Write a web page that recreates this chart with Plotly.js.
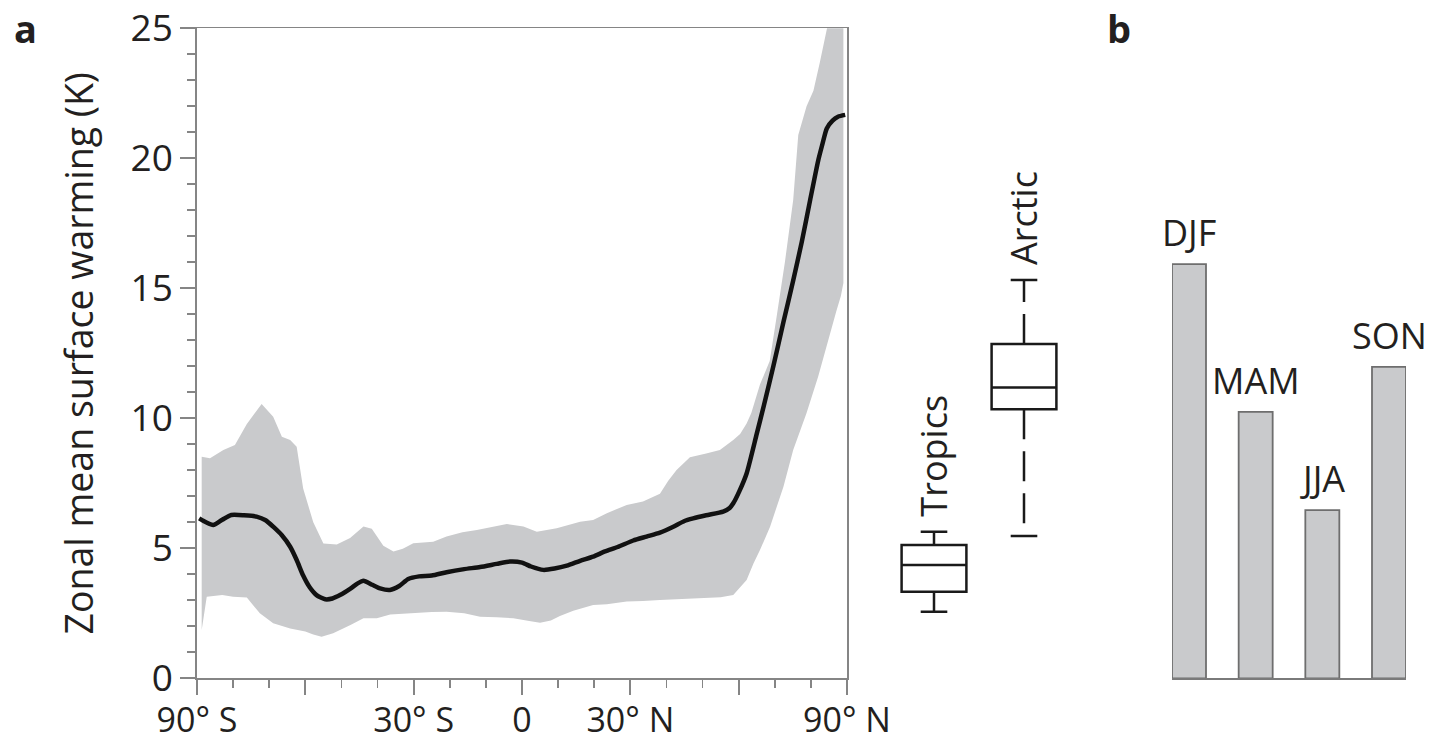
<!DOCTYPE html>
<html><head><meta charset="utf-8">
<script src="https://cdn.plot.ly/plotly-3.0.1.min.js"></script>
<style>html,body{margin:0;padding:0;background:#fff}#chart{width:1431px;height:741px}</style>
</head><body><div id="chart"></div>
<script>
// ---- Panel a: zonal mean warming (multi-model mean) ----
const lineLat = [-89.4,-87.5,-85.5,-83,-80.5,-77,-73.5,-71,-68.9,-66.5,-64.2,-62.4,-60.6,-58.8,-56.9,-54.5,-52.5,-50.4,-47.5,-45.5,-43.9,-41.5,-39.3,-36.6,-34,-31.5,-28.5,-25,-20.9,-16,-11.6,-7,-3.3,0,2.5,5.9,9,12.4,16.1,19.7,23,26.5,30.8,34.5,38.2,41.9,45,47.4,51,55.7,57.5,58.5,60.2,62.2,65,67,69.6,72.4,75.1,77.5,79.8,82,83.2,84.4,86,87.5,89.5];
const lineWarming = [6.15,6.0,5.9,6.1,6.28,6.27,6.22,6.08,5.83,5.5,5.06,4.55,3.95,3.5,3.2,3.04,3.07,3.2,3.45,3.65,3.75,3.6,3.46,3.4,3.55,3.82,3.92,3.95,4.08,4.2,4.28,4.4,4.49,4.45,4.3,4.17,4.22,4.33,4.52,4.68,4.88,5.05,5.3,5.45,5.6,5.83,6.05,6.15,6.27,6.41,6.55,6.73,7.2,7.88,9.4,10.5,12.0,13.7,15.3,16.8,18.4,19.9,20.55,21.15,21.45,21.6,21.67];

// model spread (upper / lower envelope)
const upperLat = [-88.7,-86.4,-82.7,-79.5,-76.2,-72.1,-68.9,-66.5,-64.2,-62.4,-60.6,-57.8,-55,-51.3,-47.6,-43.9,-41.6,-38.4,-35.6,-33,-30.1,-24.6,-20.9,-16.5,-12.5,-4.2,0.4,4.1,9.6,16.1,19.7,23.5,29,33.5,38.2,40.5,42.8,46.5,51,54.8,58.5,60.4,62.2,63.5,65.9,68.6,70.5,72.8,75.1,76.5,78.8,80.7,82.5,84.4,86.5,89];
const upperWarming = [8.52,8.46,8.78,8.97,9.78,10.55,10.06,9.29,9.17,8.91,7.3,6.0,5.18,5.15,5.4,5.84,5.75,5.1,4.88,4.98,5.19,5.25,5.45,5.62,5.7,5.93,5.84,5.64,5.77,6.02,6.09,6.35,6.67,6.8,7.1,7.6,8.01,8.5,8.65,8.78,9.17,9.4,9.8,10.2,11.3,12.2,13.9,16.0,18.4,20.9,22.0,22.6,23.7,24.93,26.5,28];
const lowerLat = [-88.7,-87.3,-83,-80,-76.2,-72.6,-68.9,-64.2,-60,-57.8,-55.5,-52.3,-47.5,-43.9,-40.2,-36.5,-33.8,-30.1,-25,-20.9,-16,-11.6,-7,-2.4,2,5,8,10.5,14.2,19.7,23.5,29,33.5,38.2,42,47.4,51.1,55,58.5,60.2,62.2,64.1,65.9,68.7,70.5,72.4,75.1,78.8,82,85,87,88.3,89];
const lowerWarming = [1.86,3.14,3.2,3.14,3.11,2.5,2.12,1.92,1.8,1.68,1.6,1.73,2.05,2.31,2.31,2.45,2.45,2.5,2.55,2.56,2.5,2.37,2.35,2.31,2.2,2.14,2.22,2.4,2.6,2.82,2.85,2.95,2.97,3.01,3.04,3.08,3.1,3.12,3.2,3.45,3.78,4.42,4.93,5.83,6.6,7.37,8.78,10.2,11.6,13.1,14.1,14.7,15.2];

const latTickVals = [-90,-60,-30,0,30,60,90];
const latTickText = ['90° S','','30° S','0','30° N','','90° N'];

// ---- Box plots: Tropics / Arctic ----
const boxRegions = ['Tropics','Arctic'];
const boxLower  = [2.56, 5.47];
const boxQ1     = [3.33, 10.35];
const boxMedian = [4.36, 11.18];
const boxQ3     = [5.13, 12.86];
const boxUpper  = [5.64, 15.32];

// ---- Panel b: Arctic seasonal warming ----
const seasons = ['DJF','MAM','JJA','SON'];
const seasonWarming = [15.93, 10.25, 6.47, 11.98];

const W = 1431, H = 741;
const px = v => v / W, py = v => 1 - v / H;
const FONT = '"Open Sans", "Noto Sans", sans-serif';
const TXT = '#231f20';
const AX = '#858585';
const GREY = '#c9cacc';

const traces = [];
traces.push({
  type:'scatter', mode:'lines', xaxis:'x', yaxis:'y',
  x: upperLat.concat(lowerLat.slice().reverse()),
  y: upperWarming.concat(lowerWarming.slice().reverse()),
  fill:'toself', fillcolor: GREY, line:{width:0, color:GREY}, hoverinfo:'skip', showlegend:false
});
traces.push({
  type:'scatter', mode:'lines', xaxis:'x', yaxis:'y',
  x: lineLat, y: lineWarming,
  line:{color:'#111', width:4.5, shape:'spline', smoothing:0.6}, showlegend:false
});
traces.push({
  type:'box', xaxis:'x2', yaxis:'y', x: boxRegions,
  q1: boxQ1, median: boxMedian, q3: boxQ3, lowerfence: boxQ1, upperfence: boxQ3,
  width: 0.72, whiskerwidth: 0, fillcolor:'#ffffff',
  line:{color:'#1a1a1a', width:2.5}, boxpoints:false, showlegend:false
});
boxRegions.forEach((r, i) => {
  traces.push({
    type:'scatter', mode:'lines', xaxis:'x2', yaxis:'y',
    x:[r, r, null, r, r], y:[boxQ3[i], boxUpper[i], null, boxQ1[i], boxLower[i]],
    line:{color:'#1a1a1a', width:2.5, dash:'30px,12px'}, showlegend:false
  });
});
traces.push({
  type:'scatter', mode:'markers', xaxis:'x2', yaxis:'y',
  x: boxRegions.concat(boxRegions), y: boxUpper.concat(boxLower),
  marker:{symbol:'line-ew', size:19, color:'#1a1a1a', line:{width:2.5, color:'#1a1a1a'}},
  showlegend:false
});
traces.push({
  type:'bar', xaxis:'x3', yaxis:'y', x: seasons, y: seasonWarming,
  width: 0.51, marker:{color:GREY, line:{color:'#6e6e6e', width:1.8}}, showlegend:false
});

const annotations = [];
boxRegions.forEach((r, i) => annotations.push({
  xref:'x2', yref:'y', x:i, y:boxUpper[i], text:r, textangle:-90, showarrow:false,
  xanchor:'center', yanchor:'bottom', yshift:13, font:{family:FONT, size:36, color:TXT}
}));
seasons.forEach((s, i) => annotations.push({
  xref:'x3', yref:'y', x:i, y:seasonWarming[i], text:s, showarrow:false,
  xanchor:'center', yanchor:'bottom', yshift:5, font:{family:FONT, size:36, color:TXT}
}));
annotations.push({xref:'paper', yref:'paper', x:px(26), y:1, text:'<b>a</b>', showarrow:false,
  xanchor:'center', yanchor:'top', font:{family:FONT, size:38, color:TXT}});
annotations.push({xref:'paper', yref:'paper', x:px(1119), y:1, text:'<b>b</b>', showarrow:false,
  xanchor:'center', yanchor:'top', font:{family:FONT, size:38, color:TXT}});

const layout = {
  width: W, height: H, margin:{l:0, r:0, t:0, b:0},
  paper_bgcolor:'#fff', plot_bgcolor:'rgba(0,0,0,0)',
  font:{family:FONT, color:TXT},
  showlegend:false,
  xaxis:{
    domain:[px(197), px(847)], range:[-90, 90], anchor:'y',
    tickmode:'array', tickvals: latTickVals, ticktext: latTickText,
    ticks:'outside', ticklen:15, tickwidth:1.8, tickcolor:AX,
    minor:{tickmode:'linear', tick0:-90, dtick:10, ticks:'outside', ticklen:8, tickwidth:1.8, tickcolor:AX},
    showline:true, linecolor:AX, linewidth:1.8, mirror:true,
    showgrid:false, zeroline:false, ticklabelstandoff:-4,
    tickfont:{family:FONT, size:34, color:TXT}
  },
  yaxis:{
    domain:[1 - 678.3/H, 1 - 28.3/H], range:[0, 25], anchor:'x',
    tickmode:'linear', tick0:0, dtick:5,
    ticks:'outside', ticklen:15, tickwidth:1.8, tickcolor:AX,
    minor:{tickmode:'linear', tick0:0, dtick:1, ticks:'outside', ticklen:8, tickwidth:1.8, tickcolor:AX},
    showline:true, linecolor:AX, linewidth:1.8, mirror:true,
    showgrid:false, zeroline:false,
    tickfont:{family:FONT, size:37, color:TXT},
    title:{text:'Zonal mean surface warming (K)', font:{family:FONT, size:37.5, color:TXT}, standoff:25}
  },
  xaxis2:{domain:[px(889), px(1069)], range:[-0.5, 1.5], type:'category', anchor:'y', visible:false},
  xaxis3:{
    domain:[px(1172), px(1406)], range:[-0.255, 3.255], type:'category', anchor:'y',
    showline:true, linecolor:'#7a7a7a', linewidth:1.8, showticklabels:false, ticks:'',
    showgrid:false, zeroline:false
  },
  annotations: annotations
};

Plotly.newPlot('chart', traces, layout, {staticPlot:true, displayModeBar:false});
</script>
</body></html>
